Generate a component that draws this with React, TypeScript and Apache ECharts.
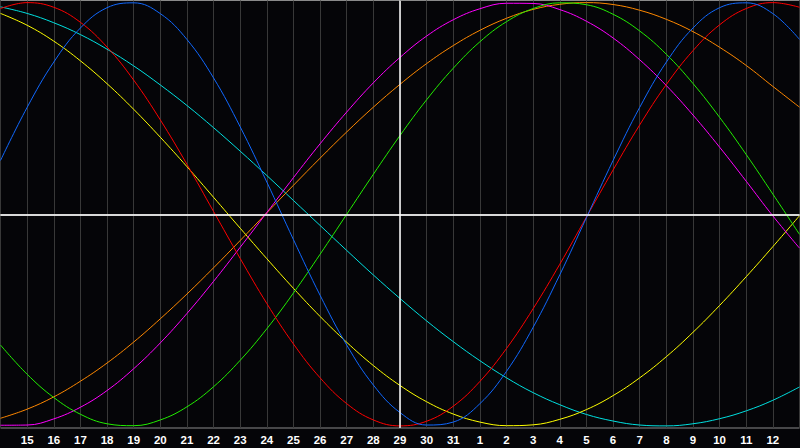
import { useEffect, useRef } from "react";
import * as echarts from "echarts";

// 日期刻度：14 日（左边缘）到下月 13 日（右边缘），今天为 29 日
const days = [
  "14", "15", "16", "17", "18", "19", "20", "21", "22", "23", "24", "25", "26",
  "27", "28", "29", "30", "31", "1", "2", "3", "4", "5", "6", "7", "8", "9",
  "10", "11", "12", "13",
];
const todayIndex = 15;

// 各周期曲线（百分比，-100 ~ 100），逐日读取
const physical = [
  25.4, 50.5, 71.9, 88.0, 97.6, 99.9, 94.8, 82.6, 64.4, 41.3, 15.2, -12.0,
  -38.3, -61.8, -80.7, -93.7, -99.6, -98.2, -89.5, -74.2, -53.4, -28.6, -1.6,
  25.4, 50.5, 71.9, 88.0, 97.6, 99.9, 94.8, 82.6,
];
const emotional = [
  97.2, 100, 97.8, 90.7, 79.0, 63.4, 44.6, 23.6, 1.3, -20.9, -42.2, -61.3,
  -77.3, -89.5, -97.2, -100, -97.8, -90.7, -79.0, -63.4, -44.6, -23.6, -1.3,
  20.9, 42.2, 61.3, 77.3, 89.5, 97.2, 100, 97.8,
];
const intellectual = [
  -61.8, -75.6, -86.6, -94.5, -99.0, -99.9, -97.2, -91.0, -81.5, -69.0, -54.1,
  -37.2, -18.9, 0, 18.9, 37.2, 54.1, 69.0, 81.5, 91.0, 97.2, 99.9, 99.0, 94.5,
  86.6, 75.6, 61.8, 45.8, 28.2, 9.5, -9.5,
];
const intuitive = [
  -99.7, -99.6, -96.7, -91.2, -83.3, -73.0, -60.8, -46.9, -31.7, -15.6, 0.8,
  17.3, 33.3, 48.3, 62.1, 74.1, 84.2, 91.9, 97.1, 99.7, 99.6, 96.7, 91.2, 83.3,
  73.0, 60.8, 46.9, 31.7, 15.6, -0.8, -16.0,
];
const aesthetic = [
  94.9, 89.3, 81.8, 72.5, 61.7, 49.6, 36.4, 22.5, 8.0, -6.6, -21.0, -35.0,
  -48.3, -60.5, -71.5, -80.9, -88.6, -94.4, -98.2, -99.9, -99.5, -96.9, -92.3,
  -85.7, -77.3, -67.3, -55.8, -43.1, -29.5, -15.3, -0.7,
];
const awareness = [
  -96.4, -92.1, -86.3, -78.9, -70.3, -60.4, -49.4, -37.7, -25.3, -12.4, 0.7,
  13.7, 26.5, 38.9, 50.6, 61.4, 71.2, 79.7, 86.9, 92.6, 96.8, 99.2, 100, 99.1,
  96.4, 92.1, 86.3, 78.9, 70.3, 60.4, 50.6,
];
const spiritual = [
  98.0, 94.9, 90.5, 84.9, 78.0, 70.1, 61.1, 51.4, 40.9, 29.8, 18.3, 6.5, -5.3,
  -17.1, -28.7, -39.8, -50.4, -60.2, -69.2, -77.3, -84.3, -90.0, -94.6, -97.7,
  -99.6, -100, -99.0, -96.6, -92.9, -87.9, -81.6,
];

const seriesList = [
  { name: "精神", data: spiritual, color: "#00e0e0" },
  { name: "美感", data: aesthetic, color: "#ffff00" },
  { name: "觉察", data: awareness, color: "#ff8800" },
  { name: "直觉", data: intuitive, color: "#ff00ff" },
  { name: "智力", data: intellectual, color: "#22ee00" },
  { name: "情绪", data: emotional, color: "#ff0000" },
  { name: "体力", data: physical, color: "#1068ff" },
];

function App() {
  const containerRef = useRef<HTMLDivElement>(null);

  useEffect(() => {
    if (!containerRef.current) return;
    const chart = echarts.init(containerRef.current, null, { renderer: "svg" });

    const series: any[] = seriesList.map((s) => ({
      name: s.name,
      type: "line",
      data: s.data,
      smooth: 0.4,
      showSymbol: false,
      symbol: "none",
      silent: true,
      lineStyle: { color: s.color, width: 1 },
      itemStyle: { color: s.color },
    }));

    // 今天的竖线与零线
    series[0].markLine = {
      silent: true,
      symbol: ["none", "none"],
      label: { show: false },
      lineStyle: { color: "#ffffff", width: 1.5, type: "solid" },
      data: [{ yAxis: 0 }, { xAxis: todayIndex }],
    };

    chart.setOption({
      animation: false,
      backgroundColor: "#050508",
      grid: {
        left: 0.5,
        right: 0.5,
        top: 0.5,
        bottom: 20,
        show: true,
        borderColor: "#8a8a8a",
        borderWidth: 1,
      },
      xAxis: {
        type: "category",
        data: days,
        boundaryGap: false,
        axisLine: { lineStyle: { color: "#8a8a8a", width: 1.5 } },
        axisTick: { show: false },
        splitLine: {
          show: true,
          interval: 0,
          lineStyle: { color: "#383838", width: 1 },
        },
        axisLabel: {
          interval: (idx: number) => idx > 0 && idx < days.length - 1,
          color: "#ffffff",
          fontSize: 11.5,
          fontWeight: "bold",
          fontFamily: "Liberation Sans",
          margin: 6,
        },
      },
      yAxis: {
        type: "value",
        min: -101,
        max: 101,
        show: false,
        splitLine: { show: false },
      },
      series,
    });

    return () => {
      chart.dispose();
    };
  }, []);

  return (
    <div
      ref={containerRef}
      style={{
        position: "absolute",
        left: 0,
        top: 0,
        width: 800,
        height: 448,
        background: "#050508",
      }}
    ></div>
  );
}

export default App;
